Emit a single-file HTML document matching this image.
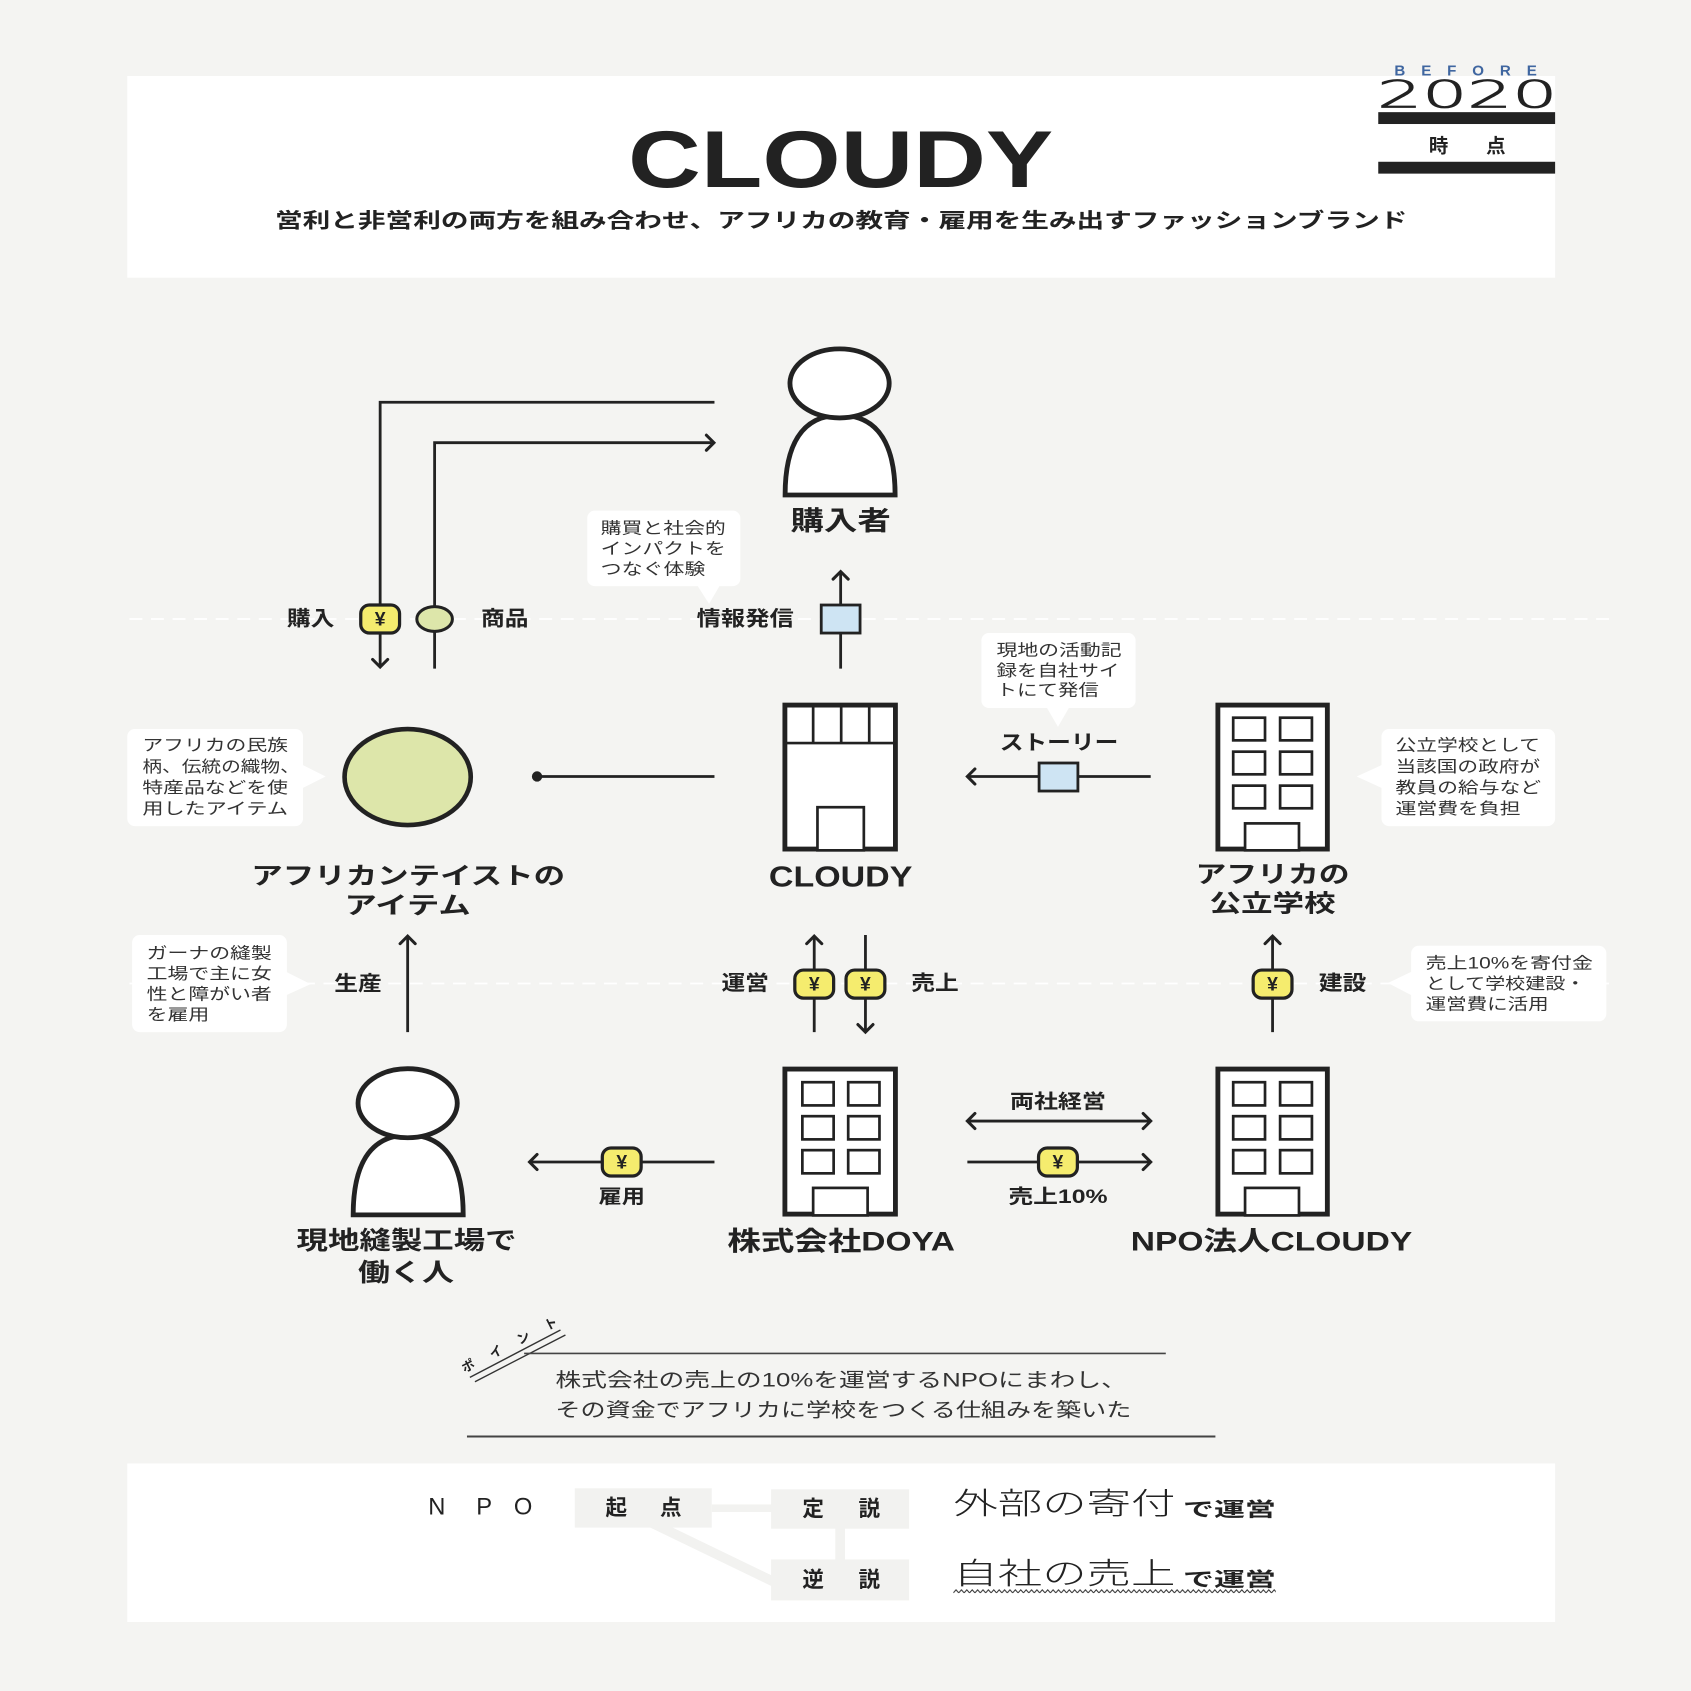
<!DOCTYPE html>
<html><head><meta charset="utf-8">
<style>
html,body{margin:0;padding:0;background:#f4f4f2;}
svg{display:block}
text{font-family:"Liberation Sans","Noto Sans CJK JP",sans-serif;}
.b{font-weight:700;fill:#222;text-anchor:middle;dominant-baseline:central;}
.c{font-weight:400;fill:#333;dominant-baseline:central;font-size:15px;}
.ln{stroke:#222;stroke-width:2.6;fill:none;}
.ch{stroke:#222;stroke-width:2.8;fill:none;stroke-linecap:round;stroke-linejoin:miter;}
.yen{fill:#f5ec6e;stroke:#222;stroke-width:3;}
.yt{font-weight:700;fill:#222;text-anchor:middle;dominant-baseline:central;font-size:18px;}
.bl{fill:#cee4f3;stroke:#222;stroke-width:2.6;}
.bo{fill:#fff;stroke:#222;stroke-width:4.5;}
.wi{fill:#fff;stroke:#222;stroke-width:2.5;}
.co{fill:#fff;}
</style></head><body>
<svg width="1691" height="1691" viewBox="0 0 1568 1568" xmlns="http://www.w3.org/2000/svg">
<defs>
<pattern id="zz" x="884" y="1473" width="5" height="5" patternUnits="userSpaceOnUse">
<path d="M0,4 L2.5,1.2 L5,4" stroke="#333" fill="none" stroke-width="1"/>
</pattern>
</defs>
<rect x="0" y="0" width="1568" height="1568" fill="#f4f4f2"/>

<!-- header -->
<rect x="118" y="70.5" width="1324" height="187" fill="#fff"/>
<text x="582.5" y="173.5" font-size="75" font-weight="700" fill="#222" textLength="394" lengthAdjust="spacingAndGlyphs">CLOUDY</text>
<text class="b" x="780" y="205" font-size="19" textLength="1050" lengthAdjust="spacingAndGlyphs">営利と非営利の両方を組み合わせ、アフリカの教育・雇用を生み出すファッションブランド</text>

<text x="1293" y="70" font-size="14" font-weight="700" fill="#3f66a0" textLength="132" lengthAdjust="spacing">BEFORE</text>
<text x="1277" y="99.5" style="font-family:'DejaVu Sans',sans-serif" font-weight="200" font-size="35" fill="#222" stroke="#222" stroke-width="0.8" textLength="167" lengthAdjust="spacingAndGlyphs">2020</text>
<rect x="1278" y="104" width="164" height="11" fill="#222"/>
<text class="b" x="1334" y="136" font-size="18">時</text>
<text class="b" x="1387" y="136" font-size="18">点</text>
<rect x="1278" y="150" width="164" height="11" fill="#222"/>

<!-- dashed guides -->
<line x1="120" y1="574" x2="1500" y2="574" stroke="#fff" stroke-width="1.6" stroke-dasharray="12 8"/>
<line x1="120" y1="912" x2="1500" y2="912" stroke="#fff" stroke-width="1.6" stroke-dasharray="12 8"/>

<!-- top connections -->
<path class="ln" d="M352.5,618 V373 H662.5"/>
<polyline class="ch" points="345.5,611.5 352.5,618.5 359.5,611.5"/>
<path class="ln" d="M403,620 V410.5 H660"/>
<polyline class="ch" points="655,403.5 662,410.5 655,417.5"/>
<rect class="yen" x="334.5" y="561" width="36" height="26" rx="8"/>
<text class="yt" x="352.5" y="574.5">¥</text>
<ellipse cx="403" cy="574" rx="16.5" ry="11.5" fill="#dde6aa" stroke="#222" stroke-width="2.8"/>
<text class="b" x="288" y="574" font-size="19" textLength="44" lengthAdjust="spacingAndGlyphs">購入</text>
<text class="b" x="468" y="574" font-size="19" textLength="44" lengthAdjust="spacingAndGlyphs">商品</text>
<text class="b" x="691" y="574" font-size="19" textLength="90" lengthAdjust="spacingAndGlyphs">情報発信</text>
<path class="ln" d="M779.5,620 V531"/>
<polyline class="ch" points="772.5,537 779.5,530 786.5,537"/>
<rect class="bl" x="761.5" y="561" width="36" height="26"/>

<!-- callout 購買 -->
<rect class="co" x="544.5" y="473.5" width="142" height="70" rx="7"/>
<polygon class="co" points="646,542 668,542 657.5,560"/>
<text class="c" x="557" y="490" textLength="116" lengthAdjust="spacingAndGlyphs">購買と社会的</text>
<text class="c" x="557" y="509" textLength="116" lengthAdjust="spacingAndGlyphs">インパクトを</text>
<text class="c" x="557" y="528" textLength="97" lengthAdjust="spacingAndGlyphs">つなぐ体験</text>

<!-- buyer person -->
<path d="M728,459 C728,415 742,385 779,385 C816,385 830,415 830,459 Z" fill="#fff" stroke="#222" stroke-width="4.5" stroke-linejoin="miter"/>
<ellipse cx="778.5" cy="355.5" rx="46" ry="32" fill="#fff" stroke="#222" stroke-width="4.5"/>
<text class="b" x="779.5" y="483" font-size="25" textLength="93" lengthAdjust="spacingAndGlyphs">購入者</text>

<!-- CLOUDY building -->
<rect class="bo" x="727.8" y="653.8" width="102.5" height="133.5"/>
<line x1="729" y1="689" x2="829" y2="689" stroke="#222" stroke-width="2.5"/>
<line x1="754" y1="655" x2="754" y2="689" stroke="#222" stroke-width="2.5"/>
<line x1="780" y1="655" x2="780" y2="689" stroke="#222" stroke-width="2.5"/>
<line x1="806" y1="655" x2="806" y2="689" stroke="#222" stroke-width="2.5"/>
<rect class="wi" x="758" y="748.5" width="43" height="40"/>
<text class="b" x="779.5" y="813.5" font-size="27" textLength="133" lengthAdjust="spacingAndGlyphs">CLOUDY</text>

<!-- item -->
<path class="ln" d="M498,720 H662.5"/>
<circle cx="498" cy="720" r="4.8" fill="#222"/>
<ellipse cx="378" cy="720.5" rx="58.5" ry="44.5" fill="#dde6aa" stroke="#222" stroke-width="4.3"/>
<text class="b" x="378.5" y="813" font-size="22" textLength="291" lengthAdjust="spacingAndGlyphs">アフリカンテイストの</text>
<text class="b" x="378" y="840.5" font-size="22" textLength="117" lengthAdjust="spacingAndGlyphs">アイテム</text>

<!-- left callout item -->
<rect class="co" x="118" y="676" width="163" height="90" rx="7"/>
<polygon class="co" points="280,709 280,731 302,720"/>
<text class="c" x="132" y="691.5" textLength="135" lengthAdjust="spacingAndGlyphs">アフリカの民族</text>
<text class="c" x="132" y="711" textLength="146" lengthAdjust="spacingAndGlyphs">柄、伝統の織物、</text>
<text class="c" x="132" y="730.5" textLength="135" lengthAdjust="spacingAndGlyphs">特産品などを使</text>
<text class="c" x="132" y="750" textLength="135" lengthAdjust="spacingAndGlyphs">用したアイテム</text>

<!-- story -->
<path class="ln" d="M1067,720 H898"/>
<polyline class="ch" points="904,713 897,720 904,727"/>
<rect class="bl" x="963.5" y="707.5" width="36" height="26"/>
<text class="b" x="982" y="689" font-size="19" textLength="110" lengthAdjust="spacingAndGlyphs">ストーリー</text>
<rect class="co" x="910" y="587" width="143" height="69.5" rx="7"/>
<polygon class="co" points="970,655 992,655 981,674"/>
<text class="c" x="924" y="603" textLength="116" lengthAdjust="spacingAndGlyphs">現地の活動記</text>
<text class="c" x="924" y="622" textLength="114" lengthAdjust="spacingAndGlyphs">録を自社サイ</text>
<text class="c" x="924" y="640.5" textLength="95" lengthAdjust="spacingAndGlyphs">トにて発信</text>

<!-- school -->
<rect class="bo" x="1129.3" y="653.8" width="101.5" height="133.5"/>
<rect class="wi" x="1143.5" y="665.5" width="29.5" height="21"/>
<rect class="wi" x="1187" y="665.5" width="29.5" height="21"/>
<rect class="wi" x="1143.5" y="697" width="29.5" height="21"/>
<rect class="wi" x="1187" y="697" width="29.5" height="21"/>
<rect class="wi" x="1143.5" y="728.5" width="29.5" height="21"/>
<rect class="wi" x="1187" y="728.5" width="29.5" height="21"/>
<rect class="wi" x="1154.5" y="763.5" width="50" height="25"/>
<text class="b" x="1180" y="812" font-size="22" textLength="143" lengthAdjust="spacingAndGlyphs">アフリカの</text>
<text class="b" x="1180" y="838.5" font-size="22" textLength="117" lengthAdjust="spacingAndGlyphs">公立学校</text>

<!-- right callout -->
<rect class="co" x="1281" y="676" width="161" height="90" rx="7"/>
<polygon class="co" points="1282,709 1282,731 1258,720"/>
<text class="c" x="1294" y="691.5" textLength="134" lengthAdjust="spacingAndGlyphs">公立学校として</text>
<text class="c" x="1294" y="711" textLength="134" lengthAdjust="spacingAndGlyphs">当該国の政府が</text>
<text class="c" x="1294" y="730.5" textLength="135" lengthAdjust="spacingAndGlyphs">教員の給与など</text>
<text class="c" x="1294" y="750" textLength="116" lengthAdjust="spacingAndGlyphs">運営費を負担</text>

<!-- row 2 -->
<path class="ln" d="M378,957 V868.5"/>
<polyline class="ch" points="371,875 378,868 385,875"/>
<text class="b" x="332" y="912.5" font-size="19" textLength="44" lengthAdjust="spacingAndGlyphs">生産</text>
<rect class="co" x="122.5" y="867" width="143.5" height="90" rx="7"/>
<polygon class="co" points="265,901 265,923 288,912.5"/>
<text class="c" x="136" y="884" textLength="116" lengthAdjust="spacingAndGlyphs">ガーナの縫製</text>
<text class="c" x="136" y="903" textLength="116" lengthAdjust="spacingAndGlyphs">工場で主に女</text>
<text class="c" x="136" y="922" textLength="116" lengthAdjust="spacingAndGlyphs">性と障がい者</text>
<text class="c" x="136" y="941" textLength="58" lengthAdjust="spacingAndGlyphs">を雇用</text>

<path class="ln" d="M755,957 V868.5"/>
<polyline class="ch" points="748,875 755,868 762,875"/>
<rect class="yen" x="737" y="899.5" width="36" height="26" rx="8"/>
<text class="yt" x="755" y="913">¥</text>
<path class="ln" d="M802.5,867 V956"/>
<polyline class="ch" points="795.5,950 802.5,957 809.5,950"/>
<rect class="yen" x="784.5" y="899.5" width="36" height="26" rx="8"/>
<text class="yt" x="802.5" y="913">¥</text>
<text class="b" x="691" y="912" font-size="19" textLength="44" lengthAdjust="spacingAndGlyphs">運営</text>
<text class="b" x="867" y="912" font-size="19" textLength="44" lengthAdjust="spacingAndGlyphs">売上</text>

<path class="ln" d="M1180,957 V868.5"/>
<polyline class="ch" points="1173,875 1180,868 1187,875"/>
<rect class="yen" x="1162" y="899.5" width="36" height="26" rx="8"/>
<text class="yt" x="1180" y="913">¥</text>
<text class="b" x="1245" y="912" font-size="19" textLength="44" lengthAdjust="spacingAndGlyphs">建設</text>
<rect class="co" x="1308.5" y="877" width="181" height="70" rx="7"/>
<polygon class="co" points="1309,901 1309,923 1287,911.5"/>
<text class="c" x="1322" y="893.5" textLength="155" lengthAdjust="spacingAndGlyphs">売上10%を寄付金</text>
<text class="c" x="1322" y="912.5" textLength="148" lengthAdjust="spacingAndGlyphs">として学校建設・</text>
<text class="c" x="1322" y="931.5" textLength="114" lengthAdjust="spacingAndGlyphs">運営費に活用</text>

<!-- row 3 : worker -->
<g transform="translate(-400.5,667.5)">
<path d="M728,459 C728,415 742,385 779,385 C816,385 830,415 830,459 Z" fill="#fff" stroke="#222" stroke-width="4.5"/>
<ellipse cx="778.5" cy="355.5" rx="46" ry="32" fill="#fff" stroke="#222" stroke-width="4.5"/>
</g>
<text class="b" x="377" y="1151" font-size="23" textLength="204" lengthAdjust="spacingAndGlyphs">現地縫製工場で</text>
<text class="b" x="376.5" y="1181" font-size="23" textLength="89" lengthAdjust="spacingAndGlyphs">働く人</text>

<!-- employment arrow -->
<path class="ln" d="M662.5,1077.5 H492"/>
<polyline class="ch" points="498,1070.5 491,1077.5 498,1084.5"/>
<rect class="yen" x="558.5" y="1064.5" width="36" height="26" rx="8"/>
<text class="yt" x="576.5" y="1078">¥</text>
<text class="b" x="576.5" y="1110" font-size="18" textLength="43" lengthAdjust="spacingAndGlyphs">雇用</text>

<!-- DOYA building -->
<rect class="bo" x="727.8" y="991.3" width="102.5" height="134.5"/>
<rect class="wi" x="744" y="1003.5" width="29" height="21.5"/>
<rect class="wi" x="786.5" y="1003.5" width="29" height="21.5"/>
<rect class="wi" x="744" y="1035" width="29" height="21.5"/>
<rect class="wi" x="786.5" y="1035" width="29" height="21.5"/>
<rect class="wi" x="744" y="1066.5" width="29" height="21.5"/>
<rect class="wi" x="786.5" y="1066.5" width="29" height="21.5"/>
<rect class="wi" x="754" y="1101.5" width="50.5" height="25.5"/>
<text class="b" x="780" y="1151" font-size="25" textLength="211" lengthAdjust="spacingAndGlyphs">株式会社DOYA</text>

<!-- NPO building -->
<rect class="bo" x="1129.3" y="991.3" width="101.5" height="134.5"/>
<rect class="wi" x="1143.5" y="1003.5" width="29.5" height="21.5"/>
<rect class="wi" x="1187" y="1003.5" width="29.5" height="21.5"/>
<rect class="wi" x="1143.5" y="1035" width="29.5" height="21.5"/>
<rect class="wi" x="1187" y="1035" width="29.5" height="21.5"/>
<rect class="wi" x="1143.5" y="1066.5" width="29.5" height="21.5"/>
<rect class="wi" x="1187" y="1066.5" width="29.5" height="21.5"/>
<rect class="wi" x="1154.5" y="1101.5" width="50" height="25.5"/>
<text class="b" x="1179" y="1151" font-size="25" textLength="261" lengthAdjust="spacingAndGlyphs">NPO法人CLOUDY</text>

<!-- between DOYA and NPO -->
<text class="b" x="981" y="1022" font-size="18" textLength="89" lengthAdjust="spacingAndGlyphs">両社経営</text>
<path class="ln" d="M898,1039.5 H1066"/>
<polyline class="ch" points="904,1032.5 897,1039.5 904,1046.5"/>
<polyline class="ch" points="1060,1032.5 1067,1039.5 1060,1046.5"/>
<path class="ln" d="M897,1077.5 H1066"/>
<polyline class="ch" points="1060,1070.5 1067,1077.5 1060,1084.5"/>
<rect class="yen" x="963" y="1064.5" width="36" height="26" rx="8"/>
<text class="yt" x="981" y="1078">¥</text>
<text class="b" x="981" y="1110" font-size="18" textLength="92" lengthAdjust="spacingAndGlyphs">売上10%</text>

<!-- point section -->
<text transform="translate(472.5,1247) rotate(-27)" font-size="12" font-weight="700" fill="#222" text-anchor="middle" dominant-baseline="central" textLength="98" lengthAdjust="spacing">ポイント</text>
<line x1="435.7" y1="1277.2" x2="519.7" y2="1233.3" stroke="#333" stroke-width="1.3"/>
<line x1="440.4" y1="1281.2" x2="524.3" y2="1237.9" stroke="#333" stroke-width="1.3"/>
<line x1="486" y1="1255" x2="1081" y2="1255" stroke="#444" stroke-width="1.5"/>
<text x="515" y="1280" font-size="18" fill="#333" dominant-baseline="central" textLength="530" lengthAdjust="spacingAndGlyphs">株式会社の売上の10%を運営するNPOにまわし、</text>
<text x="515" y="1308" font-size="18" fill="#333" dominant-baseline="central" textLength="534" lengthAdjust="spacingAndGlyphs">その資金でアフリカに学校をつくる仕組みを築いた</text>
<line x1="433" y1="1332" x2="1127" y2="1332" stroke="#444" stroke-width="1.8"/>

<!-- bottom box -->
<rect x="118" y="1357" width="1324" height="147" fill="#fff"/>
<rect x="660" y="1395" width="56" height="7" fill="#f2f2f0"/>
<rect x="774.5" y="1415" width="9" height="32" fill="#f2f2f0"/>
<line x1="600" y1="1410" x2="720" y2="1468" stroke="#f2f2f0" stroke-width="9"/>
<rect x="533" y="1380" width="127" height="36.5" fill="#f2f2f0"/>
<rect x="715" y="1381" width="128" height="36.5" fill="#f2f2f0"/>
<rect x="715" y="1446" width="128" height="38" fill="#f2f2f0"/>
<text class="b" x="571.5" y="1398" font-size="20">起</text>
<text class="b" x="622" y="1398" font-size="20">点</text>
<text class="b" x="754" y="1399" font-size="20">定</text>
<text class="b" x="806" y="1399" font-size="20">説</text>
<text class="b" x="754" y="1464.5" font-size="20">逆</text>
<text class="b" x="806" y="1464.5" font-size="20">説</text>
<text x="405" y="1398" font-size="22" fill="#222" text-anchor="middle" dominant-baseline="central">N</text>
<text x="449" y="1398" font-size="22" fill="#222" text-anchor="middle" dominant-baseline="central">P</text>
<text x="485" y="1398" font-size="22" fill="#222" text-anchor="middle" dominant-baseline="central">O</text>
<text x="884" y="1395" font-size="28" font-weight="300" fill="#222" dominant-baseline="central" textLength="206" lengthAdjust="spacingAndGlyphs">外部の寄付</text>
<text x="1097" y="1400" font-size="18" font-weight="700" fill="#222" dominant-baseline="central" textLength="86" lengthAdjust="spacingAndGlyphs">で運営</text>
<text x="884" y="1460" font-size="28" font-weight="300" fill="#222" dominant-baseline="central" textLength="206" lengthAdjust="spacingAndGlyphs">自社の売上</text>
<text x="1097" y="1465" font-size="18" font-weight="700" fill="#222" dominant-baseline="central" textLength="86" lengthAdjust="spacingAndGlyphs">で運営</text>
<rect x="884" y="1473" width="299" height="5" fill="url(#zz)"/>
</svg>
</body></html>
